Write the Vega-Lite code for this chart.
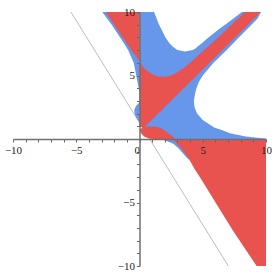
{
  "$schema": "https://vega.github.io/schema/vega-lite/v6.json",
  "autosize": {"type": "none"},
  "width": 253,
  "height": 254,
  "padding": {"left": 13, "top": 12, "right": 11, "bottom": 11},
  "background": "white",
  "config": {"view": {"stroke": null}},
  "resolve": {"axis": {"x": "independent", "y": "independent"}},
  "datasets": {
    "gray": [{"x": -5.42, "y": 10}, {"x": 7.02, "y": -10}],
    "blue": [
      {"g": "B1", "y": 3.4, "xl": 0, "xr": 0},
      {"g": "B1", "y": 3.9, "xl": -0.05, "xr": 0},
      {"g": "B1", "y": 4.8, "xl": -0.22, "xr": 0},
      {"g": "B1", "y": 5.98, "xl": -0.45, "xr": 0},
      {"g": "B1", "y": 7.0, "xl": -0.9, "xr": 0},
      {"g": "B1", "y": 7.82, "xl": -1.41, "xr": 0},
      {"g": "B1", "y": 9.0, "xl": -2.2, "xr": 0},
      {"g": "B1", "y": 10, "xl": -2.94, "xr": 0},
      {"g": "B2", "y": 1.3, "xl": 0, "xr": 0},
      {"g": "B2", "y": 1.55, "xl": -0.18, "xr": 0},
      {"g": "B2", "y": 1.9, "xl": -0.37, "xr": 0},
      {"g": "B2", "y": 2.28, "xl": -0.42, "xr": 0},
      {"g": "B2", "y": 2.6, "xl": -0.28, "xr": 0},
      {"g": "B2", "y": 2.9, "xl": 0, "xr": 0},
      {"g": "B3", "y": 0, "xl": 1.3, "xr": 10},
      {"g": "B3", "y": 0.03, "xl": 1.2, "xr": 10},
      {"g": "B3", "y": 0.08, "xl": 1.15, "xr": 9.5},
      {"g": "B3", "y": 0.2, "xl": 1.0, "xr": 8.4},
      {"g": "B3", "y": 0.45, "xl": 0.55, "xr": 7.15},
      {"g": "B3", "y": 0.7, "xl": 0.25, "xr": 6.5},
      {"g": "B3", "y": 0.9, "xl": 0.3, "xr": 5.9},
      {"g": "B3", "y": 1.0, "xl": 0, "xr": 5.75},
      {"g": "B3", "y": 1.5, "xl": 0, "xr": 5.0},
      {"g": "B3", "y": 2.0, "xl": 0, "xr": 4.55},
      {"g": "B3", "y": 2.5, "xl": 0, "xr": 4.35},
      {"g": "B3", "y": 3.0, "xl": 0, "xr": 4.3},
      {"g": "B3", "y": 3.5, "xl": 0, "xr": 4.38},
      {"g": "B3", "y": 4.0, "xl": 0, "xr": 4.5},
      {"g": "B3", "y": 4.5, "xl": 0, "xr": 4.7},
      {"g": "B3", "y": 5.0, "xl": 0, "xr": 5.0},
      {"g": "B3", "y": 6.0, "xl": 0, "xr": 5.85},
      {"g": "B3", "y": 7.0, "xl": 0, "xr": 6.9},
      {"g": "B3", "y": 8.0, "xl": 0, "xr": 7.85},
      {"g": "B3", "y": 9.0, "xl": 0, "xr": 8.85},
      {"g": "B3", "y": 9.5, "xl": 0, "xr": 9.35},
      {"g": "B3", "y": 10, "xl": 0, "xr": 9.6},
      {"g": "B4", "y": -1.6, "xl": 3.85, "xr": 4.6},
      {"g": "B4", "y": -1.2, "xl": 3.5, "xr": 4.6},
      {"g": "B4", "y": -0.75, "xl": 3.1, "xr": 4.6},
      {"g": "B4", "y": -0.4, "xl": 2.7, "xr": 4.6},
      {"g": "B4", "y": -0.15, "xl": 2.15, "xr": 4.6},
      {"g": "B4", "y": 0, "xl": 1.6, "xr": 4.6}
    ],
    "hole": [
      {"y": 6.88, "xl": 3.6, "xr": 3.6},
      {"y": 7.0, "xl": 3.0, "xr": 4.2},
      {"y": 7.1, "xl": 2.85, "xr": 4.4},
      {"y": 7.3, "xl": 2.6, "xr": 4.62},
      {"y": 7.5, "xl": 2.4, "xr": 4.88},
      {"y": 8.0, "xl": 2.05, "xr": 5.45},
      {"y": 8.3, "xl": 1.9, "xr": 5.85},
      {"y": 8.7, "xl": 1.7, "xr": 6.35},
      {"y": 9.1, "xl": 1.5, "xr": 6.9},
      {"y": 9.5, "xl": 1.35, "xr": 7.45},
      {"y": 10, "xl": 1.15, "xr": 8.1}
    ],
    "redH": [
      {"g": "R1", "y": 6.1, "xl": 0, "xr": 0},
      {"g": "R1", "y": 8.0, "xl": -1.33, "xr": 0},
      {"g": "R1", "y": 10, "xl": -2.67, "xr": 0},
      {"g": "R3", "y": -10, "xl": 9.26, "xr": 10},
      {"g": "R3", "y": -7.27, "xl": 7.42, "xr": 10},
      {"g": "R3", "y": -5.17, "xl": 6.12, "xr": 10},
      {"g": "R3", "y": -3.07, "xl": 4.82, "xr": 10},
      {"g": "R3", "y": -2.4, "xl": 4.38, "xr": 10},
      {"g": "R3", "y": -1.6, "xl": 3.92, "xr": 10},
      {"g": "R3", "y": -1.2, "xl": 3.65, "xr": 10},
      {"g": "R3", "y": -0.75, "xl": 3.3, "xr": 10},
      {"g": "R3", "y": -0.3, "xl": 2.9, "xr": 10},
      {"g": "R3", "y": 0, "xl": 2.6, "xr": 10}
    ],
    "redV": [
      {"g": "R2", "x": 0, "yl": 1.05, "yu": 6.1},
      {"g": "R2", "x": 0.3, "yl": 0.85, "yu": 5.65},
      {"g": "R2", "x": 0.5, "yl": 1.04, "yu": 5.45},
      {"g": "R2", "x": 1, "yl": 1.54, "yu": 5.1},
      {"g": "R2", "x": 1.5, "yl": 2.03, "yu": 4.93},
      {"g": "R2", "x": 2, "yl": 2.52, "yu": 4.9},
      {"g": "R2", "x": 2.5, "yl": 3.01, "yu": 5.0},
      {"g": "R2", "x": 3, "yl": 3.51, "yu": 5.25},
      {"g": "R2", "x": 3.5, "yl": 4.0, "yu": 5.6},
      {"g": "R2", "x": 4, "yl": 4.49, "yu": 6.0},
      {"g": "R2", "x": 4.5, "yl": 4.98, "yu": 6.45},
      {"g": "R2", "x": 5, "yl": 5.48, "yu": 6.9},
      {"g": "R2", "x": 6, "yl": 6.46, "yu": 7.8},
      {"g": "R2", "x": 7, "yl": 7.45, "yu": 8.75},
      {"g": "R2", "x": 8.34, "yl": 8.76, "yu": 10},
      {"g": "R2", "x": 9, "yl": 9.42, "yu": 10},
      {"g": "R2", "x": 9.58, "yl": 10, "yu": 10},
      {"g": "BUMP", "x": 0.03, "yl": 0.62, "yu": 0.74},
      {"g": "BUMP", "x": 0.2, "yl": 0.35, "yu": 0.86},
      {"g": "BUMP", "x": 0.4, "yl": 0.17, "yu": 0.93},
      {"g": "BUMP", "x": 0.7, "yl": 0.05, "yu": 0.98},
      {"g": "BUMP", "x": 1.0, "yl": 0.0, "yu": 0.99},
      {"g": "BUMP", "x": 1.3, "yl": -0.02, "yu": 0.96},
      {"g": "BUMP", "x": 1.6, "yl": -0.03, "yu": 0.88},
      {"g": "BUMP", "x": 1.9, "yl": -0.02, "yu": 0.72},
      {"g": "BUMP", "x": 2.2, "yl": 0.0, "yu": 0.52},
      {"g": "BUMP", "x": 2.5, "yl": 0.0, "yu": 0.3},
      {"g": "BUMP", "x": 2.8, "yl": 0.02, "yu": 0.05}
    ]
  },
  "layer": [
    {
      "data": {"name": "gray"},
      "mark": {"type": "line", "color": "#bdbdbd", "strokeWidth": 1},
      "encoding": {
        "x": {"field": "x", "type": "quantitative", "scale": {"domain": [-10, 10], "nice": false, "zero": false},
          "axis": {"orient": "bottom", "offset": -127, "values": [-10, -5, 0, 5, 10],
            "labelAlign": {"expr": "datum.value == 0 ? 'right' : 'center'"},
            "tickSize": 3, "tickColor": "#666666", "domainColor": "#707070", "domainWidth": 1.5,
            "labelFont": "Liberation Serif", "labelFontSize": 11, "labelColor": "#222222",
            "labelOverlap": false, "labelFlush": false, "labelBound": false, "labelPadding": 2,
            "title": null, "grid": false, "zindex": 2}},
        "y": {"field": "y", "type": "quantitative", "scale": {"domain": [-10, 10], "nice": false, "zero": false},
          "axis": {"orient": "left", "offset": -126.5, "values": [-10, -5, 5, 10],
            "tickSize": 3, "tickColor": "#666666", "domainColor": "#707070", "domainWidth": 1.5,
            "labelFont": "Liberation Serif", "labelFontSize": 11, "labelColor": "#222222",
            "labelOverlap": false, "labelFlush": false, "labelBound": false, "labelPadding": 2,
            "title": null, "grid": false, "zindex": 2}}
      }
    },
    {
      "data": {"name": "blue"},
      "mark": {"type": "area", "orient": "horizontal", "color": "#6697eb", "opacity": 1},
      "encoding": {
        "y": {"field": "y", "type": "quantitative",
          "axis": {"orient": "left", "offset": -126.5, "values": [-9,-8,-7,-6,-4,-3,-2,-1,1,2,3,4,6,7,8,9],
            "labels": false, "domain": false, "tickSize": 3, "tickColor": "#666666",
            "title": null, "grid": false, "zindex": 1}},
        "x": {"field": "xl", "type": "quantitative", "stack": null,
          "axis": {"orient": "bottom", "offset": -127, "values": [-9,-8,-7,-6,-4,-3,-2,-1,1,2,3,4,6,7,8,9],
            "labels": false, "domain": false, "tickSize": 3, "tickColor": "#666666",
            "title": null, "grid": false, "zindex": 1}},
        "x2": {"field": "xr"},
        "detail": {"field": "g"}
      }
    },
    {
      "data": {"name": "hole"},
      "mark": {"type": "area", "orient": "horizontal", "color": "white", "opacity": 1},
      "encoding": {
        "y": {"field": "y", "type": "quantitative", "axis": null},
        "x": {"field": "xl", "type": "quantitative", "stack": null, "axis": null},
        "x2": {"field": "xr"}
      }
    },
    {
      "data": {"name": "redH"},
      "mark": {"type": "area", "orient": "horizontal", "color": "#e8524f", "opacity": 1},
      "encoding": {
        "y": {"field": "y", "type": "quantitative", "axis": null},
        "x": {"field": "xl", "type": "quantitative", "stack": null, "axis": null},
        "x2": {"field": "xr"},
        "detail": {"field": "g"}
      }
    },
    {
      "data": {"name": "redV"},
      "mark": {"type": "area", "orient": "vertical", "color": "#e8524f", "opacity": 1},
      "encoding": {
        "x": {"field": "x", "type": "quantitative", "axis": null},
        "y": {"field": "yl", "type": "quantitative", "stack": null, "axis": null},
        "y2": {"field": "yu"},
        "detail": {"field": "g"}
      }
    }
  ]
}
